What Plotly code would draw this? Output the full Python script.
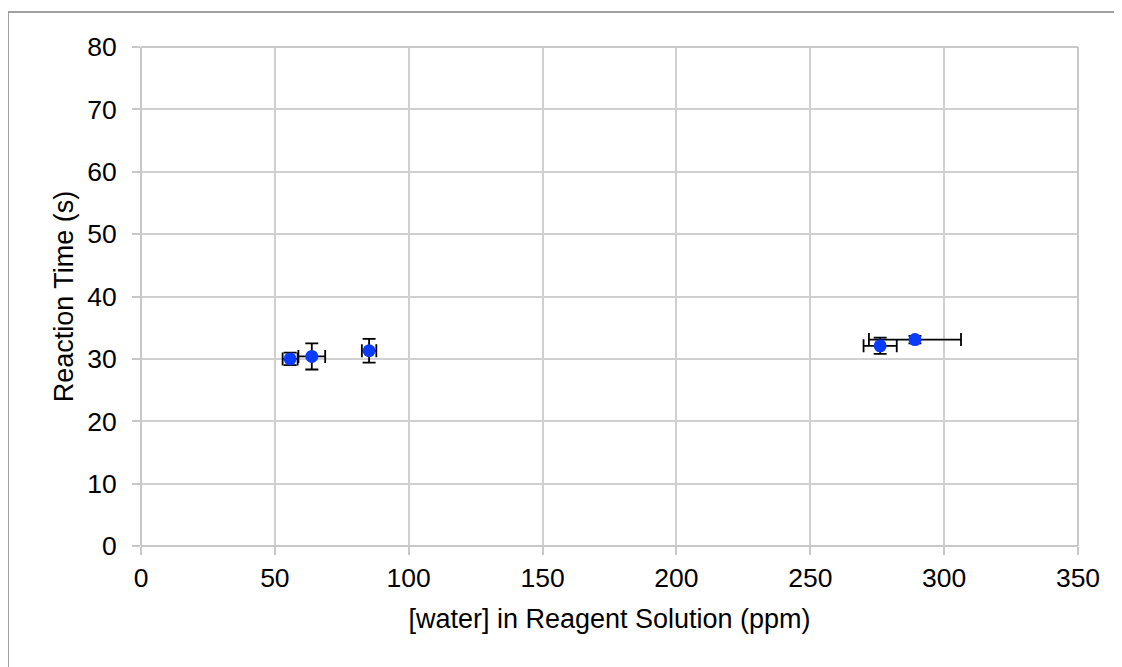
import plotly.graph_objects as go

water_ppm = [55.7, 63.8, 85.2, 276.1, 289.1]
reaction_time = [30.0, 30.4, 31.3, 32.1, 33.1]
water_err = [2.8, 5.0, 2.7, 6.2, 17.2]
time_err = [1.0, 2.1, 1.9, 1.3, 0.6]

x_ticks = [0, 50, 100, 150, 200, 250, 300, 350]
y_ticks = [0, 10, 20, 30, 40, 50, 60, 70, 80]

# page body has an 8px margin, so the figure is sized/shifted to compensate
W, H = 1114, 659
L, T = 133, 39
PW, PH = 937, 499

fig = go.Figure()
fig.add_trace(go.Scatter(
    x=water_ppm, y=reaction_time, mode="markers",
    marker=dict(color="#0a3cff", size=13),
    error_x=dict(type="data", array=water_err, color="black", thickness=1.8, width=6.5),
    error_y=dict(type="data", array=time_err, color="black", thickness=1.8, width=6.5),
    showlegend=False,
))

fam = "Liberation Sans, Arial, sans-serif"
fig.update_layout(
    width=W, height=H,
    margin=dict(l=L, r=W - L - PW, t=T, b=H - T - PH),
    paper_bgcolor="white", plot_bgcolor="white",
    font=dict(family=fam, size=26, color="black"),
    xaxis=dict(
        range=[0, 350], tickvals=x_ticks, showgrid=True, gridcolor="#d0d0d0", gridwidth=2,
        zeroline=False, showline=False, ticks="outside", ticklen=8, tickcolor="#c8c8c8", tickwidth=2,
        title=dict(text="[water] in Reagent Solution (ppm)", font=dict(family=fam, size=27), standoff=17),
        tickfont=dict(family=fam, size=26.5),
    ),
    yaxis=dict(
        range=[0, 80], tickvals=y_ticks, showgrid=True, gridcolor="#d0d0d0", gridwidth=2,
        zeroline=False, showline=False, ticks="outside", ticklen=8, tickcolor="#c8c8c8", tickwidth=2,
        ticklabelstandoff=10,
        title=dict(text="Reaction Time (s)", font=dict(family=fam, size=27), standoff=5),
        tickfont=dict(family=fam, size=26.5),
    ),
    shapes=[
        dict(type="line", xref="paper", yref="paper", x0=0, x1=1, y0=0, y1=0,
             line=dict(color="#c8c8c8", width=2)),
        dict(type="line", xref="paper", yref="paper", x0=0, x1=0, y0=0, y1=1,
             line=dict(color="#c8c8c8", width=2)),
        dict(type="line", xref="paper", yref="paper", x0=1, x1=1, y0=0, y1=1,
             line=dict(color="#c8c8c8", width=2)),
        dict(type="line", xref="paper", yref="paper", x0=0, x1=1, y0=1, y1=1,
             line=dict(color="#c8c8c8", width=2)),
    ],
)

# outer chart border (extends beyond the visible frame on right/bottom)
fig.add_shape(type="line", xref="x domain", yref="y domain",
              x0=-(141 - 8) / PW, x1=(1130 - 141) / PW,
              y0=(546 - 12) / PH, y1=(546 - 12) / PH,
              line=dict(color="#a0a0a0", width=2))
fig.add_shape(type="line", xref="x domain", yref="y domain",
              x0=-(141 - 8) / PW, x1=-(141 - 8) / PW,
              y0=(546 - 12) / PH, y1=-(680 - 546) / PH,
              line=dict(color="#a0a0a0", width=2))

fig.write_html("out.html")
